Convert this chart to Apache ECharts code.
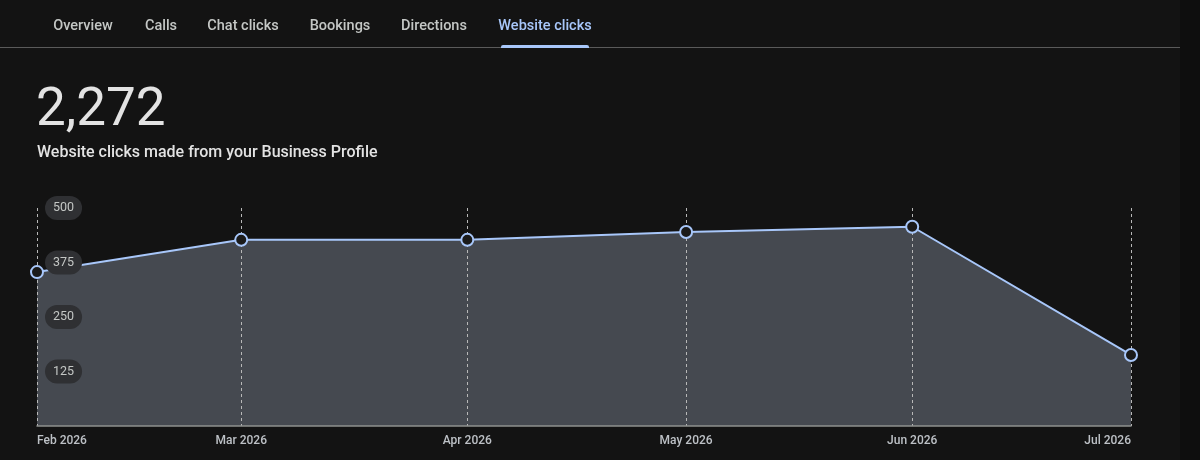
<!DOCTYPE html>
<html>
<head>
<meta charset="utf-8">
<script src="https://cdn.jsdelivr.net/npm/echarts@6/dist/echarts.min.js"></script>
<style>
  html, body { margin: 0; padding: 0; background: #131313; }
  #chart { width: 1200px; height: 460px; }
</style>
</head>
<body>
<div id="chart"></div>
<script>
const tabs = ['Overview', 'Calls', 'Chat clicks', 'Bookings', 'Directions', 'Website clicks'];
const activeTab = 'Website clicks';
const totalValue = '2,272';
const subtitle = 'Website clicks made from your Business Profile';
const months = ['2026-02-01', '2026-03-01', '2026-04-01', '2026-05-01', '2026-06-01', '2026-07-01'];
const monthLabels = ['Feb 2026', 'Mar 2026', 'Apr 2026', 'May 2026', 'Jun 2026', 'Jul 2026'];
const clicks = [353, 427, 427, 445, 457, 163];
const yTicks = [0, 125, 250, 375, 500];

const monthTs = months.map(m => Date.UTC(+m.slice(0, 4), +m.slice(5, 7) - 1, +m.slice(8, 10)));
const points = monthTs.map((t, i) => [t, clicks[i]]);

const chart = echarts.init(document.getElementById('chart'));

const tabX = [83, 161, 243, 340, 434, 545];
const graphics = [
  { type: 'rect', shape: { x: 1180, y: 0, width: 20, height: 460 }, style: { fill: '#0e0e0e' }, silent: true },
  { type: 'rect', shape: { x: 0, y: 47, width: 1180, height: 1 }, style: { fill: '#5a5a5a' }, silent: true },
  { type: 'rect', shape: { x: 501, y: 45, width: 88, height: 3, r: [2, 2, 0, 0] }, style: { fill: '#a8c7fa' }, silent: true },
  { type: 'text', left: 36, top: 85, style: { text: totalValue, font: '400 53px Roboto', fill: '#e3e3e3' } },
  { type: 'text', left: 37, top: 145, style: { text: subtitle, font: '500 16px Roboto', fill: '#e3e3e3' } }
];
tabs.forEach((t, i) => {
  graphics.push({
    type: 'text', x: tabX[i], y: 26,
    style: { text: t, font: '500 14.5px Roboto', fill: t === activeTab ? '#a8c7fa' : '#c4c7c5', align: 'center', verticalAlign: 'middle' }
  });
});

chart.setOption({
  backgroundColor: '#131313',
  animation: false,
  graphic: graphics,
  grid: { left: 37, right: 69, top: 208, bottom: 34, containLabel: false },
  xAxis: {
    type: 'value',
    min: monthTs[0],
    max: monthTs[monthTs.length - 1],
    z: 2,
    axisLine: { show: true, lineStyle: { color: '#8e918f', width: 1.5 } },
    axisTick: { show: false, customValues: monthTs },
    axisLabel: {
      customValues: monthTs,
      color: '#bdc1c6',
      fontFamily: 'Roboto',
      fontWeight: 500,
      fontSize: 12,
      margin: 9,
      alignMinLabel: 'left',
      alignMaxLabel: 'right',
      formatter: (v) => monthLabels[monthTs.indexOf(v)] || ''
    },
    splitLine: { show: true, lineStyle: { color: '#b8b8b8', type: [3, 3], width: 1 } }
  },
  yAxis: {
    type: 'value',
    min: yTicks[0],
    max: yTicks[yTicks.length - 1],
    interval: yTicks[1] - yTicks[0],
    axisLine: { show: false },
    axisTick: { show: false },
    splitLine: { show: false },
    axisLabel: {
      inside: true,
      showMinLabel: false,
      margin: 8,
      color: '#c4c7c5',
      fontFamily: 'Roboto',
      fontSize: 12.5,
      backgroundColor: '#2f3033',
      borderRadius: 12,
      padding: [6, 8, 5, 8]
    },
    z: 5
  },
  series: [{
    type: 'line',
    data: points,
    symbol: 'none',
    lineStyle: { width: 0, opacity: 0 },
    areaStyle: { color: '#454950', opacity: 1 },
    z: 1,
    silent: true
  }, {
    type: 'line',
    data: points,
    symbol: 'circle',
    symbolSize: 12,
    showSymbol: true,
    lineStyle: { color: '#a8c7fa', width: 2 },
    itemStyle: { color: '#1a1a1a', borderColor: '#a8c7fa', borderWidth: 2 },
    z: 3
  }]
});
</script>
</body>
</html>
